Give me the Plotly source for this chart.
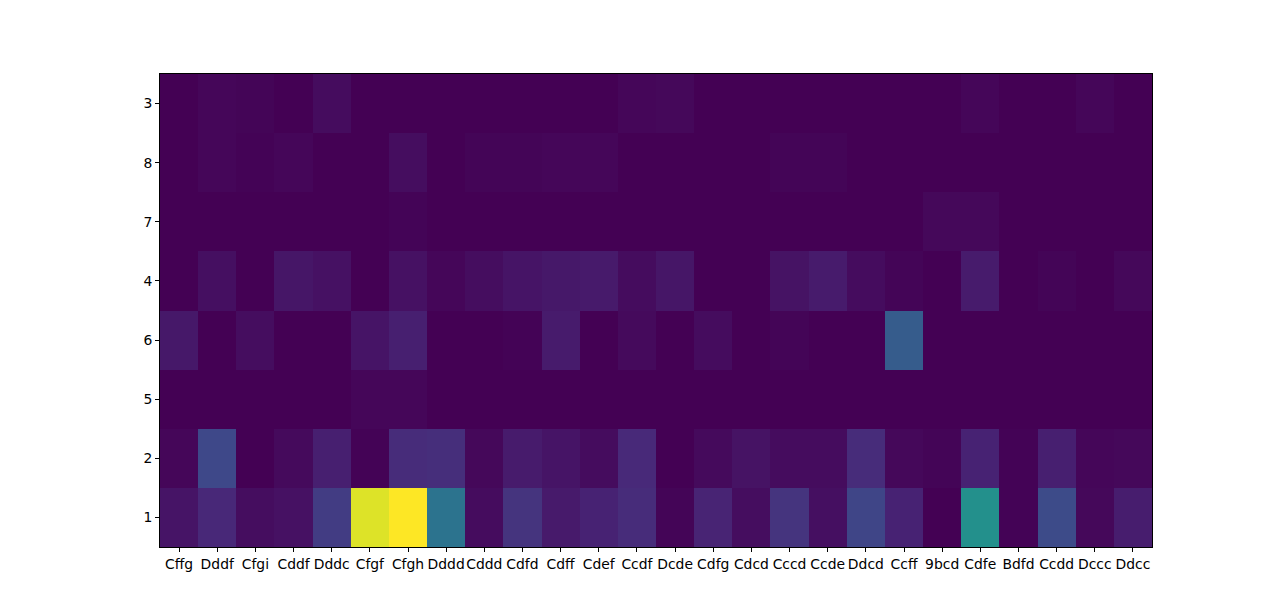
import plotly.graph_objects as go

columns = ["Cffg", "Dddf", "Cfgi", "Cddf", "Dddc", "Cfgf", "Cfgh", "Dddd", "Cddd", "Cdfd",
           "Cdff", "Cdef", "Ccdf", "Dcde", "Cdfg", "Cdcd", "Cccd", "Ccde", "Ddcd", "Ccff",
           "9bcd", "Cdfe", "Bdfd", "Ccdd", "Dccc", "Ddcc"]
rows = ["3", "8", "7", "4", "6", "5", "2", "1"]  # top to bottom

row_3 = [0, 1.5, 1, 0, 3, 0, 0, 0, 0, 0, 0, 0, 1.5, 2, 0, 0, 0, 0, 0, 0, 0, 1.5, 0, 0, 1.5, 0]
row_8 = [0, 1.5, 0.5, 1.5, 0, 0, 3.5, 0, 1, 1, 1.5, 1.5, 0, 0, 0, 0, 1, 1, 0, 0, 0, 0, 0, 0, 0, 0]
row_7 = [0, 0, 0, 0, 0, 0, 0.8, 0, 0, 0, 0, 0, 0, 0, 0, 0, 0, 0, 0, 0, 2, 2, 0, 0, 0, 0]
row_4 = [0, 4, 0, 6, 4.5, 0, 4.5, 1.5, 3.5, 5.5, 6.5, 7, 3, 6, 0, 0, 5, 7.5, 3, 1, 0, 7.5, 0, 1, 0, 2]
row_6 = [6.5, 0, 3.5, 0, 0, 5.5, 8.5, 0, 0, 0.5, 7.5, 0, 2.5, 0, 3, 0, 1, 0, 0, 29, 0, 0, 0, 0, 0, 0]
row_5 = [0, 0, 0, 0, 0, 1.5, 1.5, 0, 0, 0, 0, 0, 0, 0, 0, 0, 0, 0, 0, 0, 0, 0, 0, 0, 0, 0]
row_2 = [1.5, 22, 0, 2.5, 8.5, 0.5, 12.5, 13, 2, 7.5, 5.5, 3, 11.5, 0, 2.5, 5, 3, 3, 12.5, 2, 1, 9.5, 0.5, 8.5, 1.5, 2]
row_1 = [5.5, 11, 3.5, 4.5, 18, 95, 100, 38, 3, 15, 7, 9.5, 12.5, 1, 10, 3.5, 15, 4, 21, 9.5, 0, 50, 0.5, 23, 2, 8]

z = [row_3, row_8, row_7, row_4, row_6, row_5, row_2, row_1]

fig = go.Figure(go.Heatmap(
    z=z, x=columns, y=rows,
    colorscale="Viridis", showscale=False,
    zmin=0, zmax=100, hoverongaps=False,
))

axis_font = dict(family="DejaVu Sans", size=13.9, color="black")
fig.update_layout(
    width=1280, height=615,
    margin=dict(l=152, r=136, t=66, b=76),
    paper_bgcolor="white", plot_bgcolor="white",
    font=axis_font,
)
fig.update_xaxes(type="category", showline=True, linecolor="black", linewidth=1, mirror=True,
                 ticks="outside", ticklen=4, tickcolor="black", showgrid=False, zeroline=False,
                 tickfont=axis_font, tickangle=0)
fig.update_yaxes(type="category", autorange="reversed", showline=True, linecolor="black",
                 linewidth=1, mirror=True, ticks="outside", ticklen=4, tickcolor="black",
                 showgrid=False, zeroline=False, tickfont=axis_font)

fig.write_html("out.html")
